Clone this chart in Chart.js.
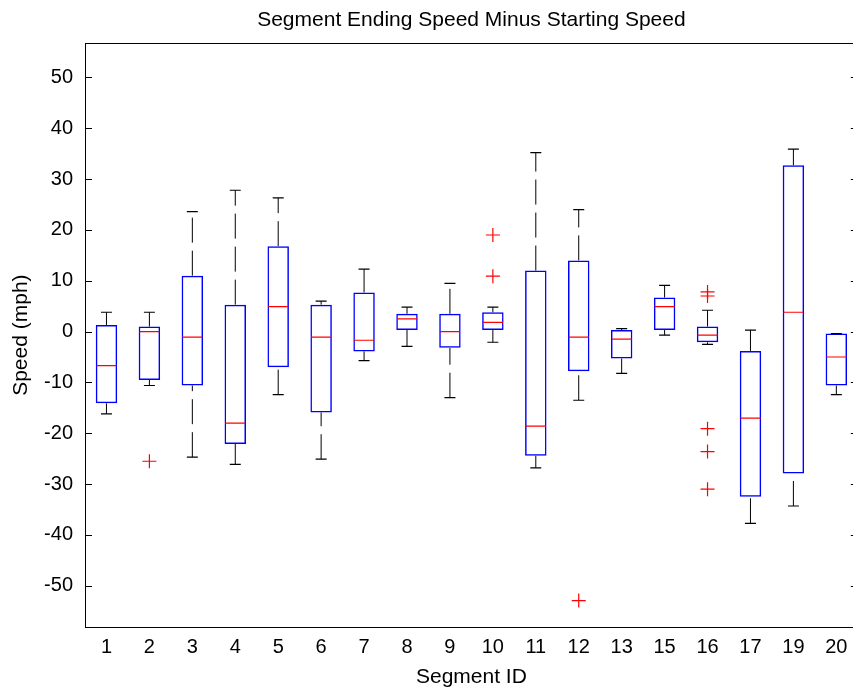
<!DOCTYPE html>
<html>
<head>
<meta charset="utf-8">
<script src="https://cdn.jsdelivr.net/npm/chart.js@4.4.1/dist/chart.umd.min.js"></script>
<style>
	html, body { margin: 0; padding: 0; overflow: hidden; background: #fff; }
	#wrap { width: 853px; height: 692px; overflow: hidden; }
	#myChart { display: block; }
</style>
</head>
<body>
<div id="wrap"><canvas id="myChart" width="869" height="692"></canvas></div>
<script>
const segments = ["1", "2", "3", "4", "5", "6", "7", "8", "9", "10", "11", "12", "13", "15", "16", "17", "19", "20"];
const upperWhisker = [3.8, 3.8, 23.6, 27.8, 26.3, 6.0, 12.3, 4.8, 9.5, 4.8, 35.2, 24.0, 0.6, 9.1, 4.2, 0.3, 35.9, -0.4];
const upperQuartile = [1.3, 1.0, 11.0, 5.3, 16.8, 5.3, 7.7, 3.5, 3.5, 3.8, 12.0, 14.0, 0.3, 6.7, 1.0, -3.8, 32.7, -0.4];
const medians = [-6.7, 0.0, -1.1, -18.0, 4.9, -1.1, -1.7, 2.5, 0.0, 1.8, -18.6, -1.1, -1.5, 4.9, -0.7, -17.0, 3.8, -5.0];
const lowerQuartile = [-14.1, -9.5, -10.6, -22.1, -7.0, -15.9, -3.9, 0.3, -3.2, 0.3, -24.4, -7.8, -5.3, 0.3, -2.1, -32.5, -27.9, -10.6];
const lowerWhisker = [-16.2, -10.6, -24.7, -26.1, -12.4, -25.1, -5.7, -2.9, -13.0, -2.1, -26.8, -13.5, -8.2, -0.7, -2.5, -37.7, -34.3, -12.4];
const outlierSegments = ["2", "10", "10", "12", "16", "16", "16", "16", "16"];
const outlierValues = [-25.5, 19.0, 10.9, -52.9, 7.8, 7.0, -19.1, -23.6, -31.0];
const yTicks = [-50, -40, -30, -20, -10, 0, 10, 20, 30, 40, 50];

Chart.defaults.font.family = "'Liberation Sans', Arial, Helvetica, sans-serif";
Chart.defaults.color = "#000";

// whiskers go from the lower value upwards, null breaks the line between them
const whiskerPoints = [];
segments.forEach((s, i) => {
	whiskerPoints.push({ x: s, y: upperQuartile[i] }, { x: s, y: upperWhisker[i] }, { x: s, y: null });
	whiskerPoints.push({ x: s, y: lowerWhisker[i] }, { x: s, y: lowerQuartile[i] }, { x: s, y: null });
});
const capPoints = segments.flatMap((s, i) => [
	{ x: s, y: upperWhisker[i] },
	{ x: s, y: lowerWhisker[i] },
]);

// inward tick marks on both sides plus the box round the plot
const frameTicks = {
	id: "frameTicks",
	afterDraw(chart) {
		const { ctx, chartArea: a, scales } = chart;
		ctx.save();
		ctx.strokeStyle = "#000";
		ctx.lineWidth = 1;
		ctx.strokeRect(Math.round(a.left) + 0.5, Math.round(a.top) + 0.5, Math.round(a.right - a.left), Math.round(a.bottom - a.top));
		ctx.beginPath();
		scales.y.ticks.forEach((t) => {
			const y = Math.round(scales.y.getPixelForValue(t.value)) + 0.5;
			ctx.moveTo(a.left, y);
			ctx.lineTo(a.left + 7, y);
			ctx.moveTo(a.right, y);
			ctx.lineTo(a.right - 7, y);
		});
		ctx.stroke();
		ctx.restore();
	},
};

const ctx = document.getElementById("myChart");
const myChart = new Chart(ctx, {
	type: "bar",
	data: {
		labels: segments,
		datasets: [
			{
				type: "line",
				data: whiskerPoints,
				borderColor: "#000",
				borderWidth: 1,
				borderDash: [25, 8],
				pointRadius: 0,
				spanGaps: false,
				order: 5,
			},
			{
				type: "bar",
				data: segments.map((s, i) => [lowerQuartile[i], upperQuartile[i]]),
				backgroundColor: "rgba(255,255,255,0)",
				borderColor: "#0000ff",
				borderWidth: 1.5,
				borderSkipped: false,
				barPercentage: 0.5,
				categoryPercentage: 1,
				order: 4,
			},
			{
				type: "line",
				data: capPoints,
				showLine: false,
				pointStyle: "line",
				pointRadius: 5.5,
				pointBorderColor: "#000",
				pointBorderWidth: 1.2,
				order: 3,
			},
			{
				type: "line",
				data: medians,
				showLine: false,
				pointStyle: "line",
				pointRadius: 10,
				pointBorderColor: "#ff0000",
				pointBorderWidth: 1.2,
				order: 2,
			},
			{
				type: "line",
				data: outlierSegments.map((s, i) => ({ x: s, y: outlierValues[i] })),
				showLine: false,
				pointStyle: "cross",
				pointRadius: 7,
				pointBorderColor: "#ff0000",
				pointBorderWidth: 1.2,
				order: 1,
			},
		],
	},
	options: {
		responsive: false,
		animation: false,
		events: [],
		// canvas is wider than the window so the right border falls outside
		layout: { padding: { left: 0, right: 2, top: 0, bottom: 0 } },
		plugins: {
			legend: { display: false },
			tooltip: { enabled: false },
			title: {
				display: true,
				text: "Segment Ending Speed Minus Starting Speed",
				fullSize: false,
				font: { size: 21, weight: "normal" },
				color: "#000",
				padding: { top: 7.5, bottom: 10.6 },
			},
		},
		scales: {
			x: {
				grid: { display: false, drawTicks: false },
				border: { display: false },
				ticks: { font: { size: 20 }, padding: 8, maxRotation: 0, autoSkip: false },
				title: { display: true, text: "Segment ID", font: { size: 21 }, padding: { top: 0, bottom: 2 } },
				afterFit: (scale) => {
					scale.height = 65;
				},
			},
			y: {
				min: -58.1,
				max: 56.7,
				grid: { display: false, drawTicks: false },
				border: { display: false },
				ticks: { font: { size: 20 }, padding: 12 },
				title: { display: true, text: "Speed (mph)", font: { size: 21 }, padding: { top: 8.5, bottom: 0 } },
				afterBuildTicks: (scale) => {
					scale.ticks = yTicks.map((v) => ({ value: v }));
				},
				afterFit: (scale) => {
					scale.width = 85;
				},
			},
		},
	},
	plugins: [frameTicks],
});
</script>
</body>
</html>
